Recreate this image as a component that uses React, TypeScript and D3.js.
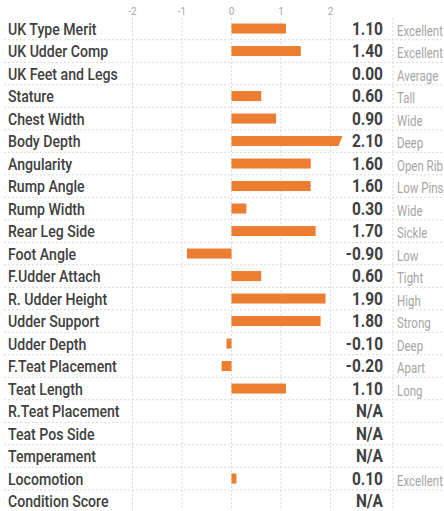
import React from 'react';
import * as d3 from 'd3';

// Trait rows, top to bottom
const traits = [
  "UK Type Merit", "UK Udder Comp", "UK Feet and Legs", "Stature", "Chest Width",
  "Body Depth", "Angularity", "Rump Angle", "Rump Width", "Rear Leg Side",
  "Foot Angle", "F.Udder Attach", "R. Udder Height", "Udder Support", "Udder Depth",
  "F.Teat Placement", "Teat Length", "R.Teat Placement", "Teat Pos Side",
  "Temperament", "Locomotion", "Condition Score"
];
// null means N/A
const scores: (number | null)[] = [
  1.1, 1.4, 0.0, 0.6, 0.9,
  2.1, 1.6, 1.6, 0.3, 1.7,
  -0.9, 0.6, 1.9, 1.8, -0.1,
  -0.2, 1.1, null, null,
  null, 0.1, null
];
const descriptors = [
  "Excellent", "Excellent", "Average", "Tall", "Wide",
  "Deep", "Open Rib", "Low Pins", "Wide", "Sickle",
  "Low", "Tight", "High", "Strong", "Deep",
  "Apart", "Long", "", "",
  "", "Excellent", ""
];
const ticks = [-2, -1, 0, 1, 2];

const W = 444;
const H = 511;
const FONT = "Roboto, 'DejaVu Sans', sans-serif";
const ORANGE = "#ED7D31";

// condensed text by squeezing horizontally
function Narrow(props: { x: number; y: number; sx: number; anchor?: string; size: number; weight?: number | string; fill: string; children: any }) {
  return (
    <text
      transform={`translate(${props.x},${props.y}) scale(${props.sx},1)`}
      textAnchor={props.anchor || "start"}
      fontFamily={FONT}
      fontSize={props.size}
      fontWeight={props.weight || 400}
      fill={props.fill}
    >
      {props.children}
    </text>
  );
}

export default function App() {
  const x = d3.scaleLinear().domain([-2, 2]).range([132.5, 330.5]);
  const y = d3.scaleBand<string>().domain(traits).range([17.3, 17.3 + traits.length * 22.5]).padding(0);
  const barH = 10;
  const valueX = 383;
  const sepX = 393;
  const descX = 397;

  return (
    <svg width={W} height={H} style={{ position: "absolute", left: 0, top: 0, background: "#fff" }}>
      {/* vertical gridlines */}
      {ticks.map(t => (
        <g key={"t" + t}>
          <line x1={x(t)} x2={x(t)} y1={18} y2={H} stroke="#d9d9d9" strokeDasharray="2,2" />
          <Narrow x={x(t)} y={15} sx={0.9} anchor="middle" size={11} fill="#a6a6a6">{t}</Narrow>
        </g>
      ))}
      <line x1={sepX} x2={sepX} y1={18} y2={H} stroke="#d9d9d9" strokeDasharray="2,2" />
      {/* row separators */}
      {traits.slice(1).map(t => (
        <line key={"r" + t} x1={4} x2={W} y1={y(t)!} y2={y(t)!} stroke="#d9d9d9" strokeDasharray="2,2" />
      ))}
      {traits.map((t, i) => {
        const v = scores[i];
        const cy = y(t)! + y.bandwidth() / 2;
        let bar = null;
        if (v !== null && v !== 0) {
          const top = cy - barH / 2;
          if (v > x.domain()[1]) {
            // overflowing bar gets a slanted end
            const x0 = x(0), x1 = x(v);
            bar = <polygon points={`${x0},${top} ${x1 + 7},${top} ${x1 + 3},${top + barH} ${x0},${top + barH}`} fill={ORANGE} />;
          } else {
            bar = <rect x={Math.min(x(0), x(v))} y={top} width={Math.abs(x(v) - x(0))} height={barH} fill={ORANGE} />;
          }
        }
        return (
          <g key={t}>
            <Narrow x={8} y={cy + 6} sx={0.83} size={17} weight={500} fill="#404040">{t}</Narrow>
            {bar}
            <Narrow x={valueX} y={cy + 6.3} sx={0.86} anchor="end" size={18} weight={700} fill="#404040">
              {v === null ? "N/A" : v.toFixed(2)}
            </Narrow>
            <Narrow x={descX} y={cy + 7} sx={0.82} size={14} fill="#a6a6a6">{descriptors[i]}</Narrow>
          </g>
        );
      })}
    </svg>
  );
}
